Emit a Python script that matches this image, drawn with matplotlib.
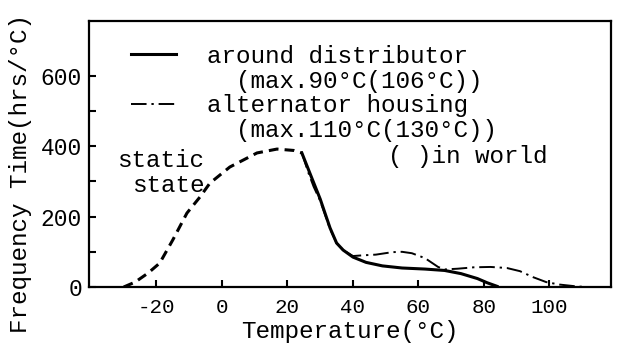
import numpy as np
from matplotlib import pyplot as plt
from matplotlib.lines import Line2D

plt.rcParams["font.family"] = ["Liberation Mono", "DejaVu Sans Mono"]

# static state (dashed curve)
static_temp = [-30, -26.5, -22.5, -19, -15, -10.7, -6.7, -3.7, 2.4, 10.7, 16.8, 22, 24.4]
static_freq = [0, 14, 40, 68, 134, 210, 256, 295, 341, 381, 392, 388, 381]

# around distributor (solid curve)
dist_temp = [24.4, 27, 30, 33, 35, 37, 40, 44, 49, 55, 62, 68, 73, 78, 81, 84]
dist_freq = [381, 320, 250, 168, 125, 105, 85, 70, 60, 54, 51, 47, 38, 24, 12, 2]

# alternator housing (dash-dot curve)
alt_temp = [24.4, 25.5, 26.5, 28, 30, 33, 35, 37, 40, 43, 47, 52, 55, 58, 62, 66, 68,
            72, 77, 82, 87, 91, 95, 99, 103, 108, 111]
alt_freq = [381, 350, 322, 285, 245, 165, 125, 105, 88, 90, 92, 99, 100, 96, 82, 57, 50,
            52, 56, 57, 54, 45, 28, 14, 7, 2, 0]

x_ticks = [-20, 0, 20, 40, 60, 80, 100]
y_ticks = [0, 200, 400, 600]
y_minor = [100, 300, 500]

fig = plt.figure(figsize=(6.21, 3.49), dpi=100)
ax = fig.add_axes([89 / 621, 62 / 349, 522 / 621, 266 / 349])

ax.plot(static_temp, static_freq, color="black", lw=2.2, dashes=(3.2, 2), zorder=2)
h_alt, = ax.plot(alt_temp, alt_freq, color="black", lw=1.4, dashes=(8, 2.5, 1.2, 2.5), zorder=3)
h_dist, = ax.plot(dist_temp, dist_freq, color="black", lw=2.2, zorder=4)

ax.set_xlim(-40.6, 118.8)
ax.set_ylim(0, 756)
ax.set_xticks(x_ticks)
ax.set_xticklabels([str(t) for t in x_ticks], fontsize=15)
ax.set_yticks(y_ticks)
ax.set_yticklabels([str(t) for t in y_ticks], fontsize=16.5)
ax.set_yticks(y_minor, minor=True)
ax.tick_params(which="both", direction="in", length=5, width=1.5)
ax.tick_params(axis="x", pad=8)
ax.tick_params(axis="y", pad=5)
for s in ax.spines.values():
    s.set_linewidth(1.6)

ax.set_xlabel("Temperature(°C)", fontsize=17.5, labelpad=2)
ax.set_ylabel("Frequency Time(hrs/°C)", fontsize=17.5, va="center")
ax.yaxis.set_label_coords(-0.132, 0.425)

blank = Line2D([], [], linestyle="none")
ax.legend([h_dist, blank, h_alt, blank],
          ["around distributor", "  (max.90°C(106°C))",
           "alternator housing", "  (max.110°C(130°C))"],
          loc="upper left", bbox_to_anchor=(0.08, 0.91), frameon=False,
          fontsize=17.5, handlelength=1.85, handletextpad=1.28,
          labelspacing=0.07, borderpad=0, borderaxespad=0)

ax.text(0.0536, 0.477, "static", transform=ax.transAxes, fontsize=17.5, va="center", ha="left")
ax.text(0.0824, 0.383, "state", transform=ax.transAxes, fontsize=17.5, va="center", ha="left")
ax.text(0.573, 0.489, "( )in world", transform=ax.transAxes, fontsize=17.5, va="center", ha="left")

plt.savefig("out.png", dpi=100)
